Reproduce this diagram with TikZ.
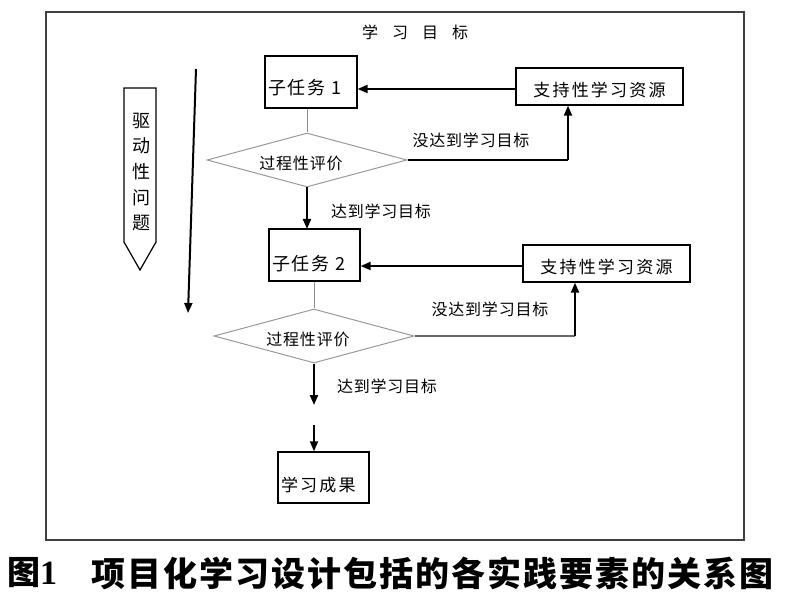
\documentclass[tikz,border=0pt]{standalone}
\usepackage{fontspec}
\newfontfamily\cjk{Noto Sans CJK SC}
\newfontfamily\capserif{Liberation Serif}
\usetikzlibrary{shapes.geometric,arrows.meta}
\begin{document}
\begin{tikzpicture}[x=1pt,y=-1pt,
  box/.style={draw=black, line width=1.3pt, inner sep=0pt},
  dia/.style={diamond, draw=black!40, line width=1pt, aspect=3.7, inner sep=0pt,
    minimum width=200pt, minimum height=54pt},
  arr/.style={line width=2pt, -{Triangle[length=10pt,width=8pt]}},
  conn/.style={line width=1.3pt},
  greyline/.style={line width=1pt, draw=black!45},
  taskfont/.style={font=\cjk\fontsize{18}{20}\selectfont\addfontfeature{LetterSpace=10}},
  resfont/.style={font=\cjk\fontsize{17}{20}\selectfont\addfontfeature{LetterSpace=13}},
  labfont/.style={font=\cjk\fontsize{16}{18}\selectfont\addfontfeature{LetterSpace=5}},
]
\useasboundingbox (0,0) rectangle (800,609);
% frame
\draw[line width=1.3pt, draw=black!75] (46,12) rectangle (744,540);
% title
\node[font=\cjk\fontsize{16}{18}\selectfont, inner sep=0pt] (title) at (415,32)
  {学\hspace{14pt}习\hspace{14pt}目\hspace{14pt}标};
% driving question pencil
\draw[line width=1.2pt] (124,88) -- (156,88) -- (156,242) -- (140,270) -- (124,242) -- cycle;
\node[font=\cjk\fontsize{18}{25.6}\selectfont, align=center, inner sep=0pt] (dq) at (141,172)
  {驱\\动\\性\\问\\题};
% long arrow
\coordinate (la1) at (196,69);
\coordinate (la2) at (188,313);
\draw[arr] (la1) -- (la2);

% sub task 1
\node[box, taskfont, minimum width=92pt, minimum height=52pt] (s1) at (311,82)
  {\makebox[86pt][l]{\raisebox{-13pt}[0pt][0pt]{子任务 1}}};
\node[box, resfont, minimum width=167pt, minimum height=37pt] (r1) at (599.5,86.5)
  {\raisebox{-10pt}[0pt][0pt]{支持性学习资源}};
\draw[arr] (r1.west |- 0,89) -- (s1.east |- 0,89);
\node[dia] (d1) at (307,160) {};
\node[labfont, inner sep=0pt] (d1t) at (301,163) {过程性评价};
\draw[greyline] (s1.south -| d1.north) -- (d1.north);
\coordinate (t1) at (568,160);
\draw[conn] (d1.east) -- (t1);
\draw[arr] (t1) -- (t1 |- r1.south);
\node[labfont] (l1) at (471,140) {没达到学习目标};
\draw[arr] (d1.south) -- (d1.south |- 0,229);
\node[labfont] (l2) at (381,211) {达到学习目标};

% sub task 2
\node[box, taskfont, minimum width=91pt, minimum height=52pt] (s2) at (314.5,255)
  {\makebox[85pt][l]{\raisebox{-16pt}[0pt][0pt]{子任务 2}}};
\node[box, resfont, minimum width=167pt, minimum height=37pt] (r2) at (606.5,263.5)
  {\raisebox{-10pt}[0pt][0pt]{支持性学习资源}};
\draw[arr] (r2.west |- 0,266) -- (s2.east |- 0,266);
\node[dia] (d2) at (314,336) {};
\node[labfont, inner sep=0pt] (d2t) at (308,339) {过程性评价};
\draw[greyline] (s2.south -| d2.north) -- (d2.north);
\coordinate (t2) at (575,336);
\draw[conn, draw=black!60] (d2.east) -- (t2);
\draw[arr] (t2) -- (t2 |- r2.south);
\node[labfont] (l3) at (490,309) {没达到学习目标};
\coordinate (e2) at (314,405);
\draw[arr] (d2.south) -- (e2);
\node[labfont] (l4) at (387,386) {达到学习目标};

% result
\node[box, resfont, minimum width=91pt, minimum height=51pt] (res) at (323.5,477.5)
  {\makebox[85pt][l]{\raisebox{-14pt}[0pt][0pt]{学习成果}}};
\coordinate (c3) at (314,425);
\draw[arr] (c3) -- (c3 |- res.north);

% caption
\node[anchor=west, inner sep=0pt, font=\cjk\bfseries\fontsize{33}{36}\selectfont] (cap1) at (7,573)
  {图{\capserif\bfseries\fontsize{34}{36}\selectfont 1}};
\node[anchor=west, inner sep=0pt, font=\cjk\bfseries\fontsize{34}{36}\selectfont\addfontfeature{LetterSpace=6}] (cap2) at (91,573)
  {项目化学习设计包括的各实践要素的关系图};
\end{tikzpicture}
\end{document}
